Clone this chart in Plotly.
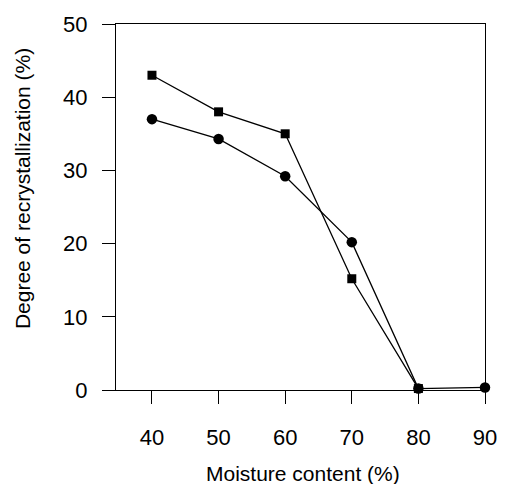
import plotly.graph_objects as go

moisture_sq = [40, 50, 60, 70, 80]
recryst_sq = [43.0, 38.0, 35.0, 15.2, 0.2]

moisture_ci = [40, 50, 60, 70, 80, 90]
recryst_ci = [37.0, 34.3, 29.2, 20.2, 0.2, 0.35]

x_ticks = [40, 50, 60, 70, 80, 90]
y_ticks = [0, 10, 20, 30, 40, 50]

FONT = "Liberation Sans, Arial, sans-serif"

fig = go.Figure()
fig.add_trace(go.Scatter(
    x=moisture_sq, y=recryst_sq, mode="lines+markers",
    line=dict(color="black", width=1.3),
    marker=dict(symbol="square", size=9, color="black"),
    showlegend=False, cliponaxis=False))
fig.add_trace(go.Scatter(
    x=moisture_ci, y=recryst_ci, mode="lines+markers",
    line=dict(color="black", width=1.3),
    marker=dict(symbol="circle", size=10.5, color="black"),
    showlegend=False, cliponaxis=False))

fig.update_layout(
    width=509, height=484,
    margin=dict(l=116, r=17, t=20, b=94),
    paper_bgcolor="white", plot_bgcolor="white",
    font=dict(family=FONT, color="black"),
    xaxis=dict(range=[34.6, 90], tickvals=x_ticks, ticks="outside", ticklen=13,
               tickwidth=1.2, tickcolor="black", showline=True, linecolor="black",
               linewidth=1.2, mirror=True, showgrid=False, zeroline=False,
               tickfont=dict(size=22, family=FONT), ticklabelstandoff=14),
    yaxis=dict(range=[0, 50], tickvals=y_ticks, ticks="outside", ticklen=13,
               tickwidth=1.2, tickcolor="black", showline=True, linecolor="black",
               linewidth=1.2, mirror=True, showgrid=False, zeroline=False,
               tickfont=dict(size=22, family=FONT), ticklabelstandoff=10),
    annotations=[
        dict(text="Moisture content (%)", xref="paper", yref="paper",
             x=0.507, y=-0.227, showarrow=False, xanchor="center", yanchor="middle",
             font=dict(size=21, family=FONT)),
        dict(text="Degree of recrystallization (%)", xref="paper", yref="paper",
             x=-0.2527, y=0.551, showarrow=False, xanchor="center", yanchor="middle",
             textangle=-90, font=dict(size=21, family=FONT)),
    ],
)

fig.write_html("out.html")
